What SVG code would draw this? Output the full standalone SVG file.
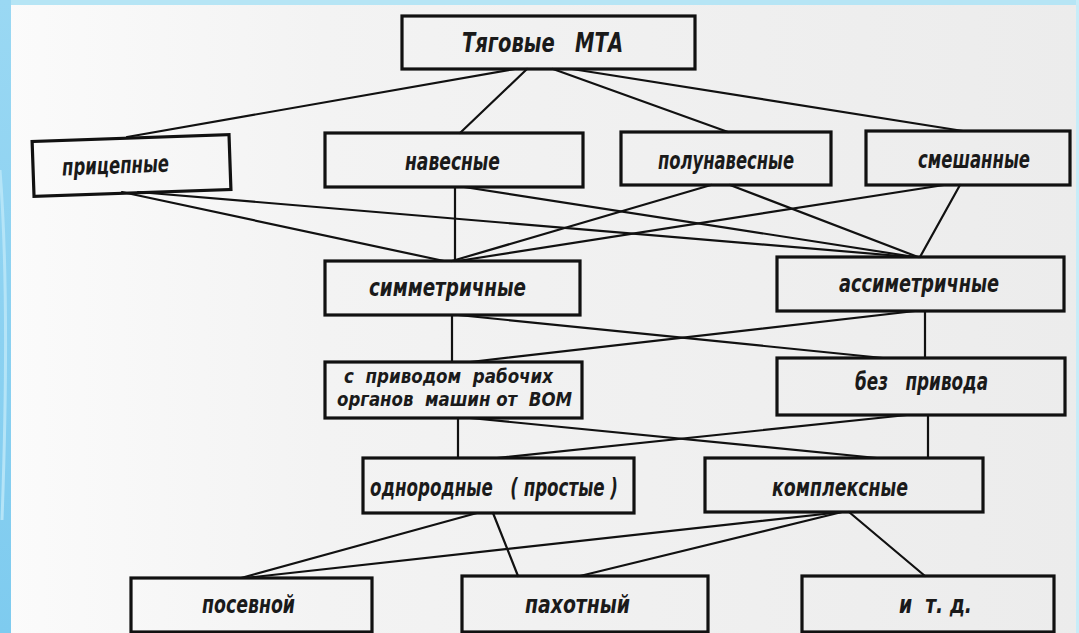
<svg xmlns="http://www.w3.org/2000/svg" width="1079" height="633" viewBox="0 0 1079 633">
<defs>
<linearGradient id="paper" x1="0" y1="0" x2="1" y2="0">
<stop offset="0" stop-color="#fbfbfb"/>
<stop offset="0.3" stop-color="#f3f3f3"/>
<stop offset="1" stop-color="#ececec"/>
</linearGradient>
<linearGradient id="side" x1="0" y1="0" x2="0" y2="1">
<stop offset="0" stop-color="#9ad8f3"/>
<stop offset="1" stop-color="#7ecbef"/>
</linearGradient>
<style>
.box{fill:none;stroke:#111;stroke-width:3.2}
.ln{stroke:#111;stroke-width:2.2;fill:none;stroke-linecap:round}
.t{font-family:"DejaVu Sans Condensed","DejaVu Sans",sans-serif;font-style:italic;font-weight:bold;font-size:24px;fill:#1a1a1a;text-anchor:start}
.tt{font-size:27px}
.ts{font-size:20px}
</style>
</defs>
<rect x="0" y="0" width="1079" height="633" fill="url(#paper)"/>
<rect x="0" y="0" width="1079" height="5" fill="#b6e5f5"/>
<rect x="0" y="0" width="11" height="633" fill="url(#side)"/>
<rect x="1076" y="0" width="3" height="633" fill="#c8ecf8"/>
<path d="M0 170 Q10 300 2 520" stroke="#b5e4f7" stroke-width="3" fill="none"/>
<g id="connectors">
<line class="ln" x1="515" y1="69" x2="127" y2="137"/>
<line class="ln" x1="527" y1="69" x2="460" y2="133"/>
<line class="ln" x1="553" y1="69" x2="728" y2="132"/>
<line class="ln" x1="572" y1="69" x2="963" y2="131"/>
<line class="ln" x1="122" y1="192" x2="444" y2="261"/>
<line class="ln" x1="138" y1="192" x2="912" y2="257"/>
<line class="ln" x1="455" y1="187" x2="455" y2="261"/>
<line class="ln" x1="464" y1="187" x2="915" y2="257"/>
<line class="ln" x1="711" y1="185" x2="452" y2="261"/>
<line class="ln" x1="730" y1="185" x2="918" y2="257"/>
<line class="ln" x1="944" y1="185" x2="458" y2="261"/>
<line class="ln" x1="960" y1="185" x2="920" y2="257"/>
<line class="ln" x1="452" y1="315" x2="452" y2="362"/>
<line class="ln" x1="458" y1="315" x2="883" y2="358"/>
<line class="ln" x1="915" y1="311" x2="470" y2="362"/>
<line class="ln" x1="925" y1="311" x2="925" y2="358"/>
<line class="ln" x1="458" y1="418" x2="458" y2="458"/>
<line class="ln" x1="470" y1="418" x2="877" y2="458"/>
<line class="ln" x1="907" y1="415" x2="497" y2="458"/>
<line class="ln" x1="928" y1="415" x2="928" y2="458"/>
<line class="ln" x1="477" y1="513" x2="241" y2="578"/>
<line class="ln" x1="493" y1="513" x2="518" y2="576"/>
<line class="ln" x1="842" y1="512" x2="245" y2="578"/>
<line class="ln" x1="842" y1="512" x2="580" y2="576"/>
<line class="ln" x1="849" y1="512" x2="925" y2="576"/>
</g>
<g id="n-top">
<rect class="box" x="402" y="16" width="293" height="53" fill="#f4f4f4"/>
<text class="t tt" x="462" y="52" textLength="161" lengthAdjust="spacingAndGlyphs" xml:space="preserve">Тяговые   МТА</text>
</g>
<g id="n-pricep" transform="rotate(-2 131 165)">
<rect class="box" x="33" y="138" width="197" height="55"/>
<text class="t" x="62" y="173" textLength="107" lengthAdjust="spacingAndGlyphs">прицепные</text>
</g>
<g id="n-naves">
<rect class="box" x="325" y="133" width="258" height="54"/>
<text class="t" x="405" y="170" textLength="95" lengthAdjust="spacingAndGlyphs">навесные</text>
</g>
<g id="n-polunaves">
<rect class="box" x="621" y="132" width="210" height="53"/>
<text class="t" x="658" y="169" textLength="136" lengthAdjust="spacingAndGlyphs">полунавесные</text>
</g>
<g id="n-smesh">
<rect class="box" x="866" y="131" width="204" height="54"/>
<text class="t" x="918" y="168" textLength="112" lengthAdjust="spacingAndGlyphs">смешанные</text>
</g>
<g id="n-simm">
<rect class="box" x="325" y="261" width="255" height="54"/>
<text class="t" x="369" y="296" textLength="157" lengthAdjust="spacingAndGlyphs">симметричные</text>
</g>
<g id="n-asimm">
<rect class="box" x="777" y="257" width="287" height="54"/>
<text class="t" x="839" y="292" textLength="160" lengthAdjust="spacingAndGlyphs">ассиметричные</text>
</g>
<g id="n-privod">
<rect class="box" x="325" y="362" width="257" height="56"/>
<text class="t ts" x="344" y="383" textLength="209" lengthAdjust="spacingAndGlyphs" xml:space="preserve">с  приводом  рабочих</text>
<text class="t ts" x="337" y="406" textLength="235" lengthAdjust="spacingAndGlyphs" xml:space="preserve">органов  машин от  ВОМ</text>
</g>
<g id="n-bez">
<rect class="box" x="777" y="358" width="288" height="57"/>
<text class="t" x="855" y="390" textLength="133" lengthAdjust="spacingAndGlyphs" xml:space="preserve">без   привода</text>
</g>
<g id="n-odnor">
<rect class="box" x="363" y="458" width="271" height="55"/>
<text class="t" x="370" y="496" textLength="248" lengthAdjust="spacingAndGlyphs" xml:space="preserve">однородные   ( простые )</text>
</g>
<g id="n-kompl">
<rect class="box" x="705" y="458" width="278" height="54"/>
<text class="t" x="772" y="496" textLength="136" lengthAdjust="spacingAndGlyphs">комплексные</text>
</g>
<g id="n-posev">
<rect class="box" x="131" y="578" width="241" height="54"/>
<text class="t" x="202" y="613" textLength="93" lengthAdjust="spacingAndGlyphs">посевной</text>
</g>
<g id="n-pahot">
<rect class="box" x="462" y="576" width="246" height="56"/>
<text class="t" x="525" y="613" textLength="105" lengthAdjust="spacingAndGlyphs">пахотный</text>
</g>
<g id="n-itd">
<rect class="box" x="802" y="576" width="252" height="56"/>
<text class="t" x="899" y="613" textLength="73" lengthAdjust="spacingAndGlyphs" xml:space="preserve">и  т. д.</text>
</g>
</svg>
